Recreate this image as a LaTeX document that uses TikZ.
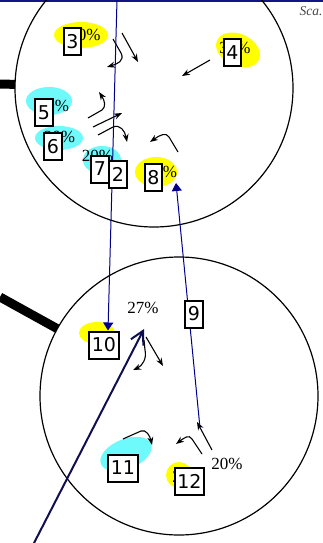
\documentclass[tikz,border=0pt]{standalone}
\usepackage{fontspec}
\newfontfamily\boxfont{DejaVu Sans}
\newfontfamily\pctfont{Liberation Serif}
\usetikzlibrary{arrows.meta}
\definecolor{navyline}{RGB}{0,0,140}
\definecolor{topnavy}{RGB}{20,20,130}
\definecolor{darknavy}{RGB}{15,15,80}
\definecolor{blobcyan}{RGB}{110,250,250}
\definecolor{blobyellow}{RGB}{255,255,0}
\definecolor{scalegray}{RGB}{70,70,70}
\pgfdeclarelayer{blobs}
\pgfdeclarelayer{lines}
\pgfsetlayers{blobs,lines,main}
\begin{document}
\begin{tikzpicture}[x=1pt,y=-1pt,
  numbox/.style={draw=black, line width=2pt, fill=white,
    font=\boxfont\fontsize{19}{19}\selectfont, inner xsep=2.5pt, inner ysep=1pt,
    minimum width=17pt, minimum height=27pt},
  pct/.style={font=\pctfont\fontsize{17}{17}\selectfont, inner sep=0pt},
  ring/.style={circle, draw=black, line width=1.2pt, minimum size=278pt, inner sep=0pt, outer sep=0pt},
  thickedge/.style={draw=black, line width=9pt},
  smallarrow/.style={draw=black, line width=1.1pt, -{Stealth[length=8pt,width=6pt]}},
  link/.style={draw=navyline, line width=1pt, -{Triangle[length=8pt,width=10pt]}},
  bigarrow/.style={draw=darknavy, line width=2pt, -{Straight Barb[length=13pt,width=14pt]}},
]
\useasboundingbox (0,0) rectangle (323,543);
\clip (0,0) rectangle (323,543);

% number boxes (main layer, on top)
\node[numbox] (n3) at (72.5,41.5) {3};
\node[numbox] (n4) at (232.5,52.5) {4};
\node[numbox] (n5) at (44,112.5) {5};
\node[numbox] (n6) at (53,146.5) {6};
\node[numbox] (n7) at (100,169) {7};
\node[numbox] (n2b) at (118,174.5) {2};
\node[numbox] (n8) at (153.5,177.5) {8};
\node[numbox] (n9) at (194,314) {9};
\node[numbox] (n10) at (104,345) {10};
\node[numbox] (n11) at (123,468) {11};
\node[numbox] (n12) at (189.5,481.5) {12};

\begin{pgfonlayer}{blobs}
\fill[blobyellow] (81,35) ellipse [x radius=27pt, y radius=13pt];
\fill[blobyellow, rotate around={-25:(238,50)}] (238,50) ellipse [x radius=23pt, y radius=16pt];
\fill[blobcyan] (49,101) ellipse [x radius=23pt, y radius=14pt];
\fill[blobcyan] (59,138) ellipse [x radius=24pt, y radius=12pt];
\fill[blobcyan] (102,160) ellipse [x radius=19pt, y radius=14pt];
\fill[blobyellow] (156,172) ellipse [x radius=21pt, y radius=15pt];
\fill[blobyellow] (97,333) ellipse [x radius=18pt, y radius=11pt];
\fill[blobcyan, rotate around={22:(126,454)}] (126,454) ellipse [x radius=27pt, y radius=15pt];
\fill[blobyellow] (179,475) ellipse [x radius=13pt, y radius=13pt];
\end{pgfonlayer}

\begin{pgfonlayer}{lines}
% top rule and caption
\draw[topnavy, line width=2pt] (0,1) -- (323,1);
\node[anchor=west, text=scalegray, font=\pctfont\itshape\fontsize{13.5}{13.5}\selectfont, inner sep=0pt] (scale) at (299.5,11) {Sca.};

% circles
\node[ring] (c1) at (154,88) {};
\node[ring] (c2) at (179,396) {};
\coordinate (e1) at (0,84);
\coordinate (e2) at (0,297);
\draw[thickedge] (e1) -- (c1);
\draw[thickedge] (e2) -- (c2);

% percent labels
\node[pct] (p3) at (85,35) {30\%};
\node[pct] (p4) at (235,48) {30\%};
\node[pct] (p5) at (53.5,105.5) {20\%};
\node[pct] (p6) at (59.5,136.5) {20\%};
\node[pct] (p7) at (97.5,155.5) {20\%};
\node[pct] (p8) at (161.5,172) {20\%};
\node[pct] (p10) at (104,341) {20\%};
\node[pct] (p11) at (123,461) {20\%};
\node[pct] (p12) at (188,477) {20\%};
\node[pct] (p27) at (143,308) {27\%};
\node[pct] (p20) at (227,464) {20\%};

% coordinates for free ends
\coordinate (a1) at (117,0);
\coordinate (b1) at (200,428);
\coordinate (b2) at (176,183);
\coordinate (m1) at (33,545);
\coordinate (m2) at (144,329);

% small black arrows (top circle)
\draw[smallarrow] (113,39) -- (121,53) .. controls (125,61) and (117,64) .. (107,67);
\draw[smallarrow] (122,33) -- (138,62);
\draw[smallarrow] (210,60) -- (182,76);
\draw[smallarrow] (88,118) -- (102,110) .. controls (106,107) and (105,101) .. (99,92);
\draw[smallarrow] (93,127) -- (122,113);
\draw[smallarrow] (98,135) -- (113,127) .. controls (120,124) and (125,131) .. (127,142);
\draw[smallarrow] (178,152) -- (169,137) .. controls (166,132) and (160,135) .. (150,142);

% small black arrows (bottom circle)
\draw[smallarrow] (144,340) -- (145,350) .. controls (147,359) and (142,366) .. (133,370);
\draw[smallarrow] (146,337) -- (163,366);
\draw[smallarrow] (123,439) -- (141,431) .. controls (146,429) and (150,436) .. (152,445);
\draw[smallarrow] (202,454) -- (192,439) .. controls (189,434) and (184,438) .. (176,444);
\draw[smallarrow] (212,450) -- (197,422);

% blue links
\draw[link] (a1) -- ([xshift=4pt]n10.north);
\draw[link] (b1) -- (b2);

% navy arrow
\draw[bigarrow] (m1) -- (m2);
\end{pgfonlayer}
\end{tikzpicture}
\end{document}
